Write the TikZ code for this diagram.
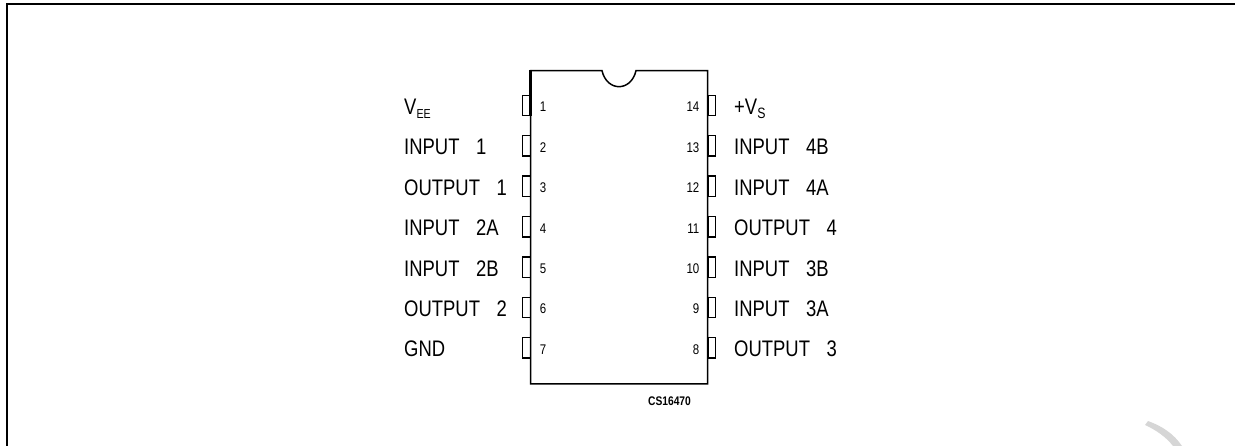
\documentclass[tikz,border=0pt]{standalone}
\usepackage{fontspec}
\setmainfont[FakeStretch=0.82]{Liberation Sans}
\usetikzlibrary{positioning}
\definecolor{markgray}{gray}{0.84}
\newcommand{\pingap}{\hspace{16.5pt}}
\newcommand{\pinsub}[2]{\raisebox{-4pt}{\fontsize{#1}{#1}\selectfont #2}}
\tikzset{
  pinbox/.style = {shape=rectangle, draw, line width=1.4pt, minimum width=7.5pt, minimum height=20.5pt, inner sep=0pt},
  pinname/.style = {font=\fontsize{22.5}{24}\selectfont, inner sep=0pt, anchor=base west},
  pinnum/.style = {font=\fontsize{14}{15}\selectfont, inner sep=0pt, anchor=base}
}
\begin{document}
\begin{tikzpicture}[x=1pt,y=-1pt]
  \useasboundingbox (0,0) rectangle (1235,446);
  % frame
  \coordinate (frame b) at (7,446);
  \coordinate (frame c) at (7,4.3);
  \coordinate (frame d) at (1235,4.3);
  \draw[line width=2pt] (frame b) -- (frame c) -- (frame d);
  % package
  \draw[line width=1.5pt] (530.5,70.7) -- (602,70.7) .. controls (607,92) and (631,92) .. (636,70.7) -- (707.7,70.7) -- (707.7,384) -- (530.5,384) -- cycle;
  \draw[line width=2.6pt] (530.5,70) -- (530.5,116);
  % left row
  \foreach \n/\name [count=\i from 0] in {1/V\pinsub{13}{EE},2/INPUT\pingap 1,3/OUTPUT\pingap 1,4/INPUT\pingap 2A,5/INPUT\pingap 2B,6/OUTPUT\pingap 2,7/GND} {
    \node[pinbox] (pin\n) at (526.5,105.5+40.4*\i) {};
    \node[pinnum] (num\n) at (543,112+40.4*\i) {\n};
    \node[pinname] (name\n) at (404,114.5+40.4*\i) {\name};
  }
  % right row
  \foreach \n/\name [count=\i from 0] in {14/+V\pinsub{15}{S},13/INPUT\pingap 4B,12/INPUT\pingap 4A,11/OUTPUT\pingap 4,10/INPUT\pingap 3B,9/INPUT\pingap 3A,8/OUTPUT\pingap 3} {
    \node[pinbox] (pin\n) at (711.7,105.5+40.4*\i) {};
    \node[pinnum, anchor=base east] (num\n) at (699.5,112+40.4*\i) {\n};
    \node[pinname] (name\n) at (734,114.5+40.4*\i) {\name};
  }
  \node[font=\bfseries\fontsize{12.5}{13}\selectfont] (code) at (669.5,401) {CS16470};
  % corner mark
  \fill[markgray] (1145,425) .. controls (1156,430) and (1166,437) .. (1173,446) -- (1182,446) .. controls (1174,434) and (1162,426) .. (1148,421) -- cycle;
\end{tikzpicture}
\end{document}
